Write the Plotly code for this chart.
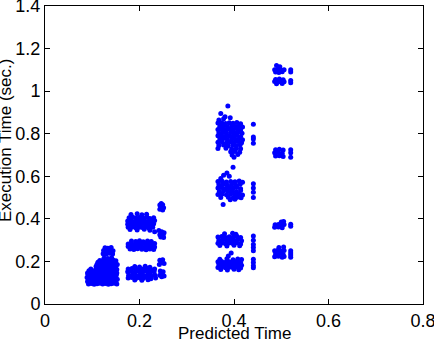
import plotly.graph_objects as go

# points, grouped by cluster: (predicted, execution)
cluster_a = [
    (0.092, 0.094), (0.098, 0.096), (0.104, 0.093), (0.110, 0.095), (0.116, 0.097), (0.122, 0.094),
    (0.128, 0.096), (0.134, 0.093), (0.140, 0.095), (0.146, 0.097), (0.152, 0.094),
    (0.090, 0.106), (0.096, 0.104), (0.102, 0.107), (0.108, 0.105), (0.114, 0.103), (0.120, 0.106),
    (0.126, 0.104), (0.132, 0.107), (0.138, 0.105), (0.144, 0.103), (0.150, 0.106),
    (0.092, 0.116), (0.098, 0.114), (0.104, 0.117), (0.110, 0.115), (0.116, 0.113), (0.122, 0.116),
    (0.128, 0.114), (0.134, 0.117), (0.140, 0.115), (0.146, 0.113), (0.153, 0.116),
    (0.089, 0.125), (0.095, 0.127), (0.101, 0.124), (0.107, 0.126), (0.113, 0.128), (0.119, 0.125),
    (0.125, 0.123), (0.131, 0.126), (0.137, 0.128), (0.143, 0.125), (0.149, 0.123),
    (0.091, 0.136), (0.097, 0.134), (0.103, 0.137), (0.109, 0.135), (0.115, 0.133), (0.121, 0.136),
    (0.127, 0.134), (0.133, 0.137), (0.139, 0.135), (0.145, 0.133), (0.151, 0.136),
    (0.090, 0.146), (0.096, 0.144), (0.102, 0.147), (0.108, 0.145), (0.114, 0.143), (0.120, 0.146),
    (0.126, 0.144), (0.132, 0.147), (0.138, 0.145), (0.144, 0.143), (0.152, 0.146),
    (0.093, 0.156), (0.099, 0.154), (0.105, 0.157), (0.111, 0.155), (0.117, 0.153), (0.123, 0.156),
    (0.129, 0.154), (0.135, 0.157), (0.141, 0.155), (0.147, 0.153),
    (0.097, 0.164), (0.110, 0.166), (0.116, 0.164), (0.122, 0.167), (0.128, 0.165), (0.134, 0.163),
    (0.140, 0.166), (0.146, 0.164), (0.152, 0.162),
    (0.108, 0.176), (0.114, 0.174), (0.120, 0.177), (0.126, 0.175), (0.132, 0.173), (0.138, 0.176),
    (0.144, 0.174), (0.150, 0.177),
    (0.110, 0.186), (0.116, 0.184), (0.122, 0.187), (0.128, 0.185), (0.134, 0.183), (0.140, 0.186),
    (0.146, 0.184), (0.153, 0.185),
    (0.112, 0.196), (0.118, 0.194), (0.124, 0.197), (0.130, 0.195), (0.136, 0.193), (0.142, 0.196),
    (0.148, 0.194),
    (0.116, 0.204), (0.123, 0.206), (0.130, 0.203), (0.137, 0.205), (0.144, 0.207), (0.150, 0.203),
    (0.125, 0.216), (0.133, 0.214), (0.141, 0.217),
    (0.123, 0.236), (0.129, 0.234), (0.136, 0.238), (0.143, 0.235),
    (0.124, 0.251), (0.130, 0.249), (0.137, 0.252), (0.144, 0.250),
    (0.127, 0.264), (0.133, 0.262), (0.140, 0.266),
]

cluster_b = [
    (0.182, 0.421), (0.195, 0.424), (0.205, 0.419), (0.215, 0.422),
    (0.178, 0.405), (0.186, 0.407), (0.193, 0.403), (0.200, 0.406), (0.208, 0.404), (0.216, 0.408),
    (0.222, 0.402), (0.230, 0.405),
    (0.175, 0.390), (0.182, 0.392), (0.189, 0.388), (0.196, 0.391), (0.203, 0.389), (0.210, 0.393),
    (0.217, 0.387), (0.224, 0.390), (0.232, 0.392),
    (0.175, 0.375), (0.181, 0.377), (0.188, 0.373), (0.195, 0.376), (0.202, 0.374), (0.209, 0.378),
    (0.216, 0.372), (0.223, 0.375), (0.230, 0.377),
    (0.176, 0.360), (0.185, 0.362), (0.192, 0.358), (0.199, 0.361), (0.206, 0.359), (0.213, 0.363),
    (0.220, 0.357), (0.228, 0.360),
    (0.180, 0.350), (0.195, 0.348), (0.210, 0.351), (0.222, 0.346), (0.232, 0.340),
    (0.183, 0.296), (0.192, 0.294), (0.200, 0.297), (0.208, 0.293), (0.217, 0.296), (0.225, 0.294),
    (0.176, 0.282), (0.183, 0.284), (0.190, 0.280), (0.197, 0.283), (0.204, 0.281), (0.211, 0.285),
    (0.218, 0.279), (0.225, 0.282), (0.232, 0.284),
    (0.176, 0.270), (0.183, 0.268), (0.190, 0.272), (0.197, 0.269), (0.204, 0.271), (0.211, 0.267),
    (0.218, 0.270), (0.225, 0.272), (0.232, 0.268),
    (0.180, 0.258), (0.188, 0.256), (0.196, 0.259), (0.205, 0.257), (0.214, 0.255), (0.222, 0.258),
    (0.230, 0.256),
    (0.190, 0.176), (0.200, 0.174), (0.212, 0.177), (0.222, 0.173),
    (0.176, 0.165), (0.184, 0.167), (0.192, 0.163), (0.200, 0.166), (0.208, 0.164), (0.216, 0.168),
    (0.224, 0.162), (0.232, 0.165),
    (0.175, 0.152), (0.183, 0.154), (0.191, 0.150), (0.199, 0.153), (0.207, 0.151), (0.215, 0.155),
    (0.223, 0.149), (0.231, 0.152),
    (0.177, 0.135), (0.185, 0.137), (0.193, 0.133), (0.201, 0.136), (0.209, 0.134), (0.217, 0.138),
    (0.225, 0.132), (0.233, 0.135),
    (0.176, 0.122), (0.184, 0.124), (0.192, 0.120), (0.200, 0.123), (0.208, 0.121), (0.216, 0.125),
    (0.224, 0.119), (0.234, 0.122),
    (0.190, 0.113), (0.205, 0.112), (0.218, 0.114),
]

cluster_c = [
    (0.243, 0.465), (0.249, 0.466), (0.245, 0.455), (0.251, 0.452), (0.243, 0.445), (0.249, 0.442),
    (0.246, 0.472),
    (0.241, 0.345), (0.247, 0.340), (0.252, 0.335), (0.243, 0.325), (0.250, 0.322), (0.245, 0.315),
    (0.251, 0.312),
    (0.243, 0.205), (0.249, 0.208), (0.246, 0.195), (0.252, 0.190), (0.242, 0.185),
    (0.244, 0.155), (0.250, 0.152), (0.247, 0.143), (0.243, 0.135), (0.252, 0.132), (0.247, 0.128),
]

cluster_d = [
    (0.387, 0.930), (0.372, 0.895), (0.381, 0.880), (0.368, 0.865), (0.378, 0.870), (0.392, 0.875),
    (0.366, 0.850), (0.374, 0.852), (0.382, 0.848), (0.390, 0.851), (0.398, 0.849), (0.406, 0.853),
    (0.414, 0.847),
    (0.370, 0.835), (0.378, 0.837), (0.386, 0.833), (0.395, 0.836), (0.403, 0.834), (0.411, 0.838),
    (0.418, 0.832),
    (0.366, 0.820), (0.374, 0.822), (0.382, 0.818), (0.390, 0.821), (0.398, 0.819), (0.406, 0.823),
    (0.414, 0.817),
    (0.368, 0.805), (0.376, 0.807), (0.384, 0.803), (0.393, 0.806), (0.401, 0.804), (0.409, 0.808),
    (0.417, 0.802),
    (0.366, 0.790), (0.374, 0.792), (0.382, 0.788), (0.390, 0.791), (0.398, 0.789), (0.406, 0.793),
    (0.414, 0.787),
    (0.370, 0.775), (0.378, 0.777), (0.386, 0.773), (0.395, 0.776), (0.403, 0.774), (0.411, 0.778),
    (0.418, 0.772),
    (0.366, 0.760), (0.374, 0.762), (0.384, 0.758), (0.392, 0.761), (0.400, 0.759), (0.408, 0.763),
    (0.416, 0.757),
    (0.368, 0.745), (0.378, 0.747), (0.388, 0.743), (0.398, 0.746), (0.405, 0.744), (0.413, 0.748),
    (0.366, 0.730), (0.383, 0.732), (0.395, 0.728), (0.405, 0.731), (0.414, 0.729),
    (0.393, 0.715), (0.402, 0.717), (0.412, 0.713),
    (0.396, 0.700), (0.408, 0.702), (0.400, 0.690),
    (0.398, 0.642), (0.385, 0.615), (0.378, 0.605), (0.390, 0.600), (0.372, 0.590),
    (0.366, 0.575), (0.375, 0.577), (0.384, 0.573), (0.393, 0.576), (0.402, 0.574), (0.411, 0.578),
    (0.418, 0.572),
    (0.368, 0.560), (0.377, 0.562), (0.386, 0.558), (0.395, 0.561), (0.404, 0.559), (0.413, 0.563),
    (0.366, 0.545), (0.374, 0.547), (0.382, 0.543), (0.390, 0.546), (0.398, 0.544), (0.406, 0.548),
    (0.414, 0.542),
    (0.369, 0.530), (0.378, 0.532), (0.387, 0.528), (0.396, 0.531), (0.405, 0.529), (0.414, 0.533),
    (0.366, 0.515), (0.375, 0.517), (0.384, 0.513), (0.393, 0.516), (0.402, 0.514), (0.411, 0.518),
    (0.418, 0.512),
    (0.372, 0.500), (0.388, 0.502), (0.398, 0.498), (0.407, 0.501), (0.415, 0.499),
    (0.392, 0.490), (0.402, 0.492), (0.377, 0.468),
    (0.380, 0.330), (0.397, 0.332), (0.404, 0.328),
    (0.366, 0.315), (0.374, 0.317), (0.382, 0.313), (0.390, 0.316), (0.398, 0.314), (0.406, 0.318),
    (0.414, 0.312),
    (0.368, 0.300), (0.376, 0.302), (0.384, 0.298), (0.392, 0.301), (0.400, 0.299), (0.408, 0.303),
    (0.416, 0.297),
    (0.366, 0.285), (0.374, 0.287), (0.382, 0.283), (0.390, 0.286), (0.398, 0.284), (0.406, 0.288),
    (0.414, 0.282),
    (0.370, 0.275), (0.385, 0.273), (0.400, 0.276), (0.412, 0.274),
    (0.394, 0.240), (0.388, 0.225),
    (0.370, 0.210), (0.385, 0.212), (0.398, 0.208), (0.408, 0.211), (0.416, 0.209),
    (0.366, 0.198), (0.374, 0.200), (0.382, 0.196), (0.390, 0.199), (0.398, 0.197), (0.406, 0.201),
    (0.414, 0.195),
    (0.368, 0.185), (0.376, 0.187), (0.384, 0.183), (0.392, 0.186), (0.400, 0.184), (0.408, 0.188),
    (0.416, 0.182),
    (0.366, 0.172), (0.374, 0.174), (0.382, 0.170), (0.390, 0.173), (0.398, 0.171), (0.406, 0.175),
    (0.414, 0.169),
    (0.372, 0.162), (0.386, 0.160), (0.400, 0.163), (0.410, 0.161),
]

column_e_x = 0.441
column_e_y = [0.845, 0.785, 0.775, 0.755, 0.565, 0.545, 0.525, 0.500,
              0.320, 0.300, 0.280, 0.265, 0.250, 0.210, 0.195, 0.180, 0.170]

cluster_f = [
    (0.490, 1.120), (0.497, 1.115),
    (0.486, 1.100), (0.493, 1.102), (0.500, 1.098), (0.506, 1.101),
    (0.488, 1.090), (0.495, 1.088), (0.502, 1.091),
    (0.488, 1.055), (0.496, 1.057), (0.504, 1.053),
    (0.486, 1.045), (0.493, 1.043), (0.500, 1.046), (0.506, 1.044),
    (0.490, 1.035), (0.502, 1.036),
    (0.488, 0.725), (0.496, 0.727), (0.504, 0.723),
    (0.486, 0.710), (0.494, 0.712), (0.502, 0.708),
    (0.488, 0.695), (0.496, 0.697), (0.504, 0.693),
    (0.500, 0.385), (0.505, 0.388),
    (0.487, 0.372), (0.494, 0.374), (0.501, 0.370), (0.506, 0.373),
    (0.486, 0.360), (0.494, 0.362), (0.502, 0.358),
    (0.495, 0.265), (0.505, 0.268),
    (0.486, 0.250), (0.493, 0.252), (0.500, 0.248), (0.506, 0.251),
    (0.488, 0.235), (0.496, 0.237), (0.504, 0.233),
    (0.486, 0.222), (0.494, 0.224), (0.502, 0.220), (0.506, 0.223),
]

column_g_x = 0.520
column_g_y = [1.100, 1.090, 1.050, 1.040, 0.725, 0.710, 0.690,
              0.375, 0.365, 0.250, 0.240, 0.230, 0.220]

xs, ys = [], []
for group in (cluster_a, cluster_b, cluster_c, cluster_d, cluster_f):
    for px, py in group:
        xs.append(px)
        ys.append(py)
for col_x, col_y in ((column_e_x, column_e_y), (column_g_x, column_g_y)):
    xs += [col_x] * len(col_y)
    ys += col_y

fig = go.Figure()
fig.add_trace(go.Scatter(
    x=xs, y=ys, mode='markers',
    marker=dict(color='#0000ff', size=5, line=dict(width=0)),
    showlegend=False,
))

FONT = 'Liberation Sans, Arial, sans-serif'
axis_style = dict(
    showline=True, linecolor='black', linewidth=1, mirror='ticks',
    ticks='inside', ticklen=5, tickcolor='black', showgrid=False, zeroline=False,
    automargin=False, ticklabeloverflow='allow',
    tickfont=dict(family=FONT, size=18, color='black'),
)

fig.update_layout(
    width=434, height=340,
    margin=dict(l=45, r=11, t=6, b=36),
    paper_bgcolor='white', plot_bgcolor='white',
    font=dict(family=FONT, size=18, color='black'),
    xaxis=dict(range=[0, 0.8], dtick=0.2, tick0=0, **axis_style),
    yaxis=dict(range=[0, 1.4], dtick=0.2, tick0=0, **axis_style),
)

# axis titles placed as annotations so they sit where the original has them
fig.add_annotation(text='Predicted Time', xref='paper', yref='paper', x=0.5, y=0,
                   xanchor='center', yanchor='top', yshift=-18, showarrow=False,
                   font=dict(family=FONT, size=17, color='black'))
fig.add_annotation(text='Execution Time (sec.)', xref='paper', yref='paper', x=0, y=0.547,
                   xanchor='center', yanchor='middle', xshift=-39, textangle=-90,
                   showarrow=False, font=dict(family=FONT, size=17, color='black'))

# drop the default page margin so the 434x340 figure fills the window
fig.write_html("out.html", config={'displayModeBar': False},
               post_script="document.body.style.margin='0';")
